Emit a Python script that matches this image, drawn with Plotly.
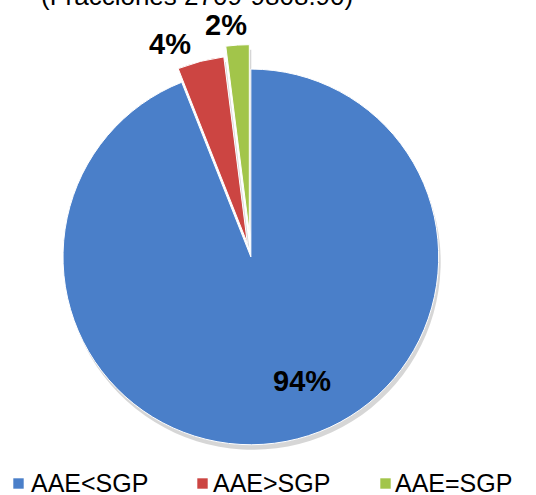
import plotly.graph_objects as go

# Shares of tariff lines by comparison of AAE against SGP
categories = ["AAE<SGP", "AAE>SGP", "AAE=SGP"]
shares = [94, 4, 2]
slice_colors = ["#4A7FC9", "#CC4542", "#A2C54A"]
slice_pull = [0, 0.075, 0.13]
title_text = "(Fracciones 2709-9808.90)"

W, H = 536, 495
FONT = "Arial, Liberation Sans, sans-serif"

fig = go.Figure()

# soft drop shadow under the pie
fig.add_trace(go.Pie(
    labels=[c + " " for c in categories],
    values=shares,
    sort=False,
    direction="clockwise",
    rotation=0,
    pull=slice_pull,
    marker=dict(colors=["rgba(0,0,0,0.16)"] * 3, line=dict(width=0)),
    textinfo="none",
    hoverinfo="skip",
    showlegend=False,
    domain=dict(x=[0.072 + 2 / W, 0.864 + 2 / W], y=[0.052 - 5 / H, 0.910 - 5 / H]),
))

fig.add_trace(go.Pie(
    labels=categories,
    values=shares,
    sort=False,
    direction="clockwise",
    rotation=0,
    pull=slice_pull,
    marker=dict(colors=slice_colors, line=dict(color="white", width=1)),
    textinfo="none",
    showlegend=False,
    domain=dict(x=[0.072, 0.864], y=[0.052, 0.910]),
))

# percentage labels
total = sum(shares)
label_pos = [(302, 381), (170, 44), (226, 25)]
for v, (px, py) in zip(shares, label_pos):
    fig.add_annotation(
        text=f"<b>{round(v / total * 100)}%</b>",
        x=px / W, y=1 - py / H, xref="paper", yref="paper",
        showarrow=False, xanchor="center", yanchor="middle",
        font=dict(family=FONT, size=29, color="black"),
    )

# title line running off the top edge
fig.add_annotation(
    text=title_text,
    x=197 / W, y=1 - 13 / H, xref="paper", yref="paper",
    showarrow=False, xanchor="center", yanchor="bottom",
    font=dict(family=FONT, size=26, color="black"),
)

# legend row along the bottom: colour key + category name
key_left = [13, 197, 380]
text_left = [29, 211, 393]
for name, col, kx, tx in zip(categories, slice_colors, key_left, text_left):
    fig.add_shape(
        type="rect", xref="paper", yref="paper",
        x0=kx / W, x1=(kx + 11) / W, y0=1 - 489 / H, y1=1 - 478 / H,
        fillcolor=col, line=dict(color="rgba(255,255,255,0.6)", width=1),
    )
    fig.add_annotation(
        text=name,
        x=tx / W, y=1 - 483 / H, xref="paper", yref="paper",
        showarrow=False, xanchor="left", yanchor="middle",
        font=dict(family=FONT, size=25, color="black"),
    )

fig.update_layout(
    width=W, height=H,
    margin=dict(l=0, r=0, t=0, b=0),
    paper_bgcolor="white",
    plot_bgcolor="white",
    showlegend=False,
)

fig.write_html("out.html")
